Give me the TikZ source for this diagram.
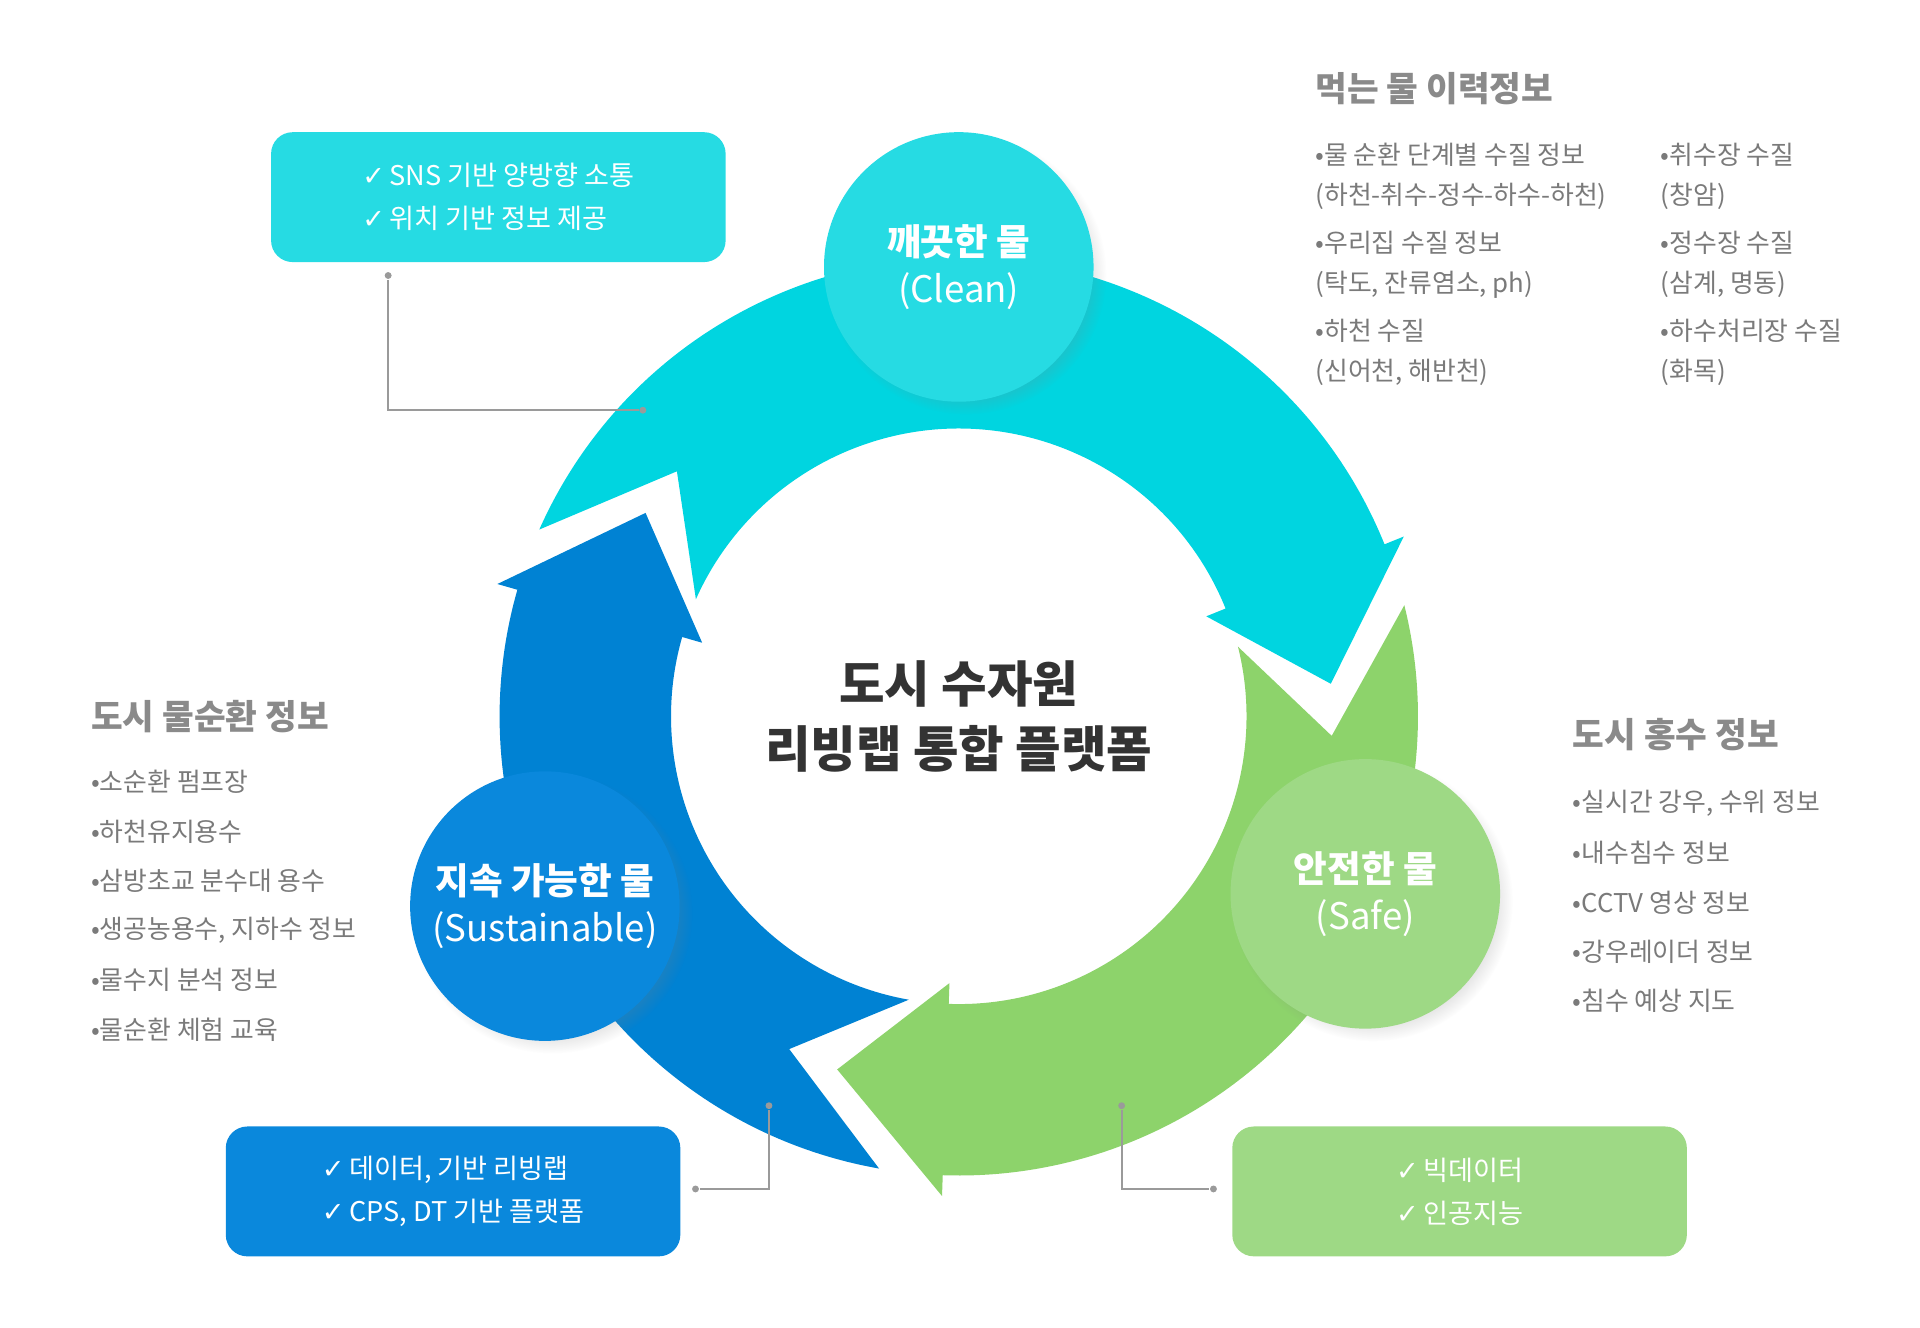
\documentclass[tikz,border=0pt]{standalone}
\usepackage{fontspec}
\setmainfont{Noto Sans CJK KR}
\newfontfamily\symfont{DejaVu Sans}
\usetikzlibrary{calc,shadows,positioning}
\definecolor{ringcyan}{HTML}{00D5E0}
\definecolor{ringgreen}{HTML}{8DD36B}
\definecolor{ringblue}{HTML}{0082D3}
\definecolor{circcyan}{HTML}{26DBE3}
\definecolor{circgreen}{HTML}{9ED985}
\definecolor{circblue}{HTML}{0A88DC}
\definecolor{headgray}{HTML}{8A8A8A}
\definecolor{itemgray}{HTML}{7A7A7A}
\definecolor{linegray}{HTML}{9A9A9A}
\newcommand\ck{{\symfont\char"2713}\,}
\newcommand\ringseg[3]{%
  \fill[#1] ($(C)+(#2:375)$) arc[start angle=#2,end angle=#3,radius=375]
    -- ($(C)+(#3:392)$) -- ($(C)+(#3-17:305)$) -- ($(C)+(#3:218)$)
    -- ($(C)+(#3:235)$) arc[start angle=#3,end angle=#2,radius=235]
    -- ($(C)+(#2-17:305)$) -- cycle;}
\tikzset{
  bigcirc/.style={circle,minimum size=2.2cm,inner sep=0,text=white,font=\bfseries\fontsize{8.5}{11}\selectfont,align=center,circular drop shadow={shadow scale=1.04,opacity=.25}},
  infobox/.style={rounded corners=5pt,minimum width=3.71cm,minimum height=1.06cm,text=white,font=\fontsize{6.3}{10}\selectfont,align=left},
  head/.style={anchor=west,text=headgray,font=\bfseries\fontsize{8}{10}\selectfont},
  item/.style={anchor=west,text=itemgray,font=\fontsize{6}{9.3}\selectfont,align=left},
  lead/.style={draw=linegray,line width=.5pt},
  dot/.style={circle,fill=linegray,inner sep=0,minimum size=1.6pt}
}
\begin{document}
\begin{tikzpicture}[x=0.01cm,y=0.01cm]
\useasboundingbox (0,0) rectangle (1568,1084);
\coordinate (C) at (783,499);
% ring
\ringseg{ringcyan}{156}{22}
\ringseg{ringgreen}{14}{-92}
\ringseg{ringblue}{-100}{-196}
% centre title
\node[text=black!80,font=\bfseries\fontsize{11.5}{15}\selectfont,align=center] (title) at (C) {도시 수자원\\리빙랩 통합 플랫폼};
% circles
\node[bigcirc,fill=circcyan] (clean) at (783,866) {깨끗한 물\\{\mdseries (Clean)}};
\node[bigcirc,fill=circgreen] (safe) at (1115,354) {안전한 물\\{\mdseries (Safe)}};
\node[bigcirc,fill=circblue] (sust) at (445,344) {지속 가능한 물\\{\mdseries (Sustainable)}};
% boxes
\node[infobox,fill=circcyan] (boxc) at (407,923) {\ck SNS 기반 양방향 소통\\\ck 위치 기반 정보 제공};
\node[infobox,fill=circblue] (boxb) at (370,111) {\ck 데이터, 기반 리빙랩\\\ck CPS, DT 기반 플랫폼};
\node[infobox,fill=circgreen] (boxg) at (1192,111) {\ck 빅데이터\\\ck 인공지능};
% leaders
\node[dot] (lc1) at (317,859) {};
\node[dot] (lc2) at (525,749) {};
\node[dot] (lb1) at (628,181) {};
\node[dot] (lb2) at (568,113) {};
\node[dot] (lg1) at (916,181) {};
\node[dot] (lg2) at (991,113) {};
\draw[lead] (lc1) |- (lc2);
\draw[lead] (lb1) |- (lb2);
\draw[lead] (lg1) |- (lg2);
% drinking water
\node[head] (hd) at (1062,1012) {먹는 물 이력정보};
\node[item] at (1062,940) {•물 순환 단계별 수질 정보\\(하천-취수-정수-하수-하천)};
\node[item] at (1062,868) {•우리집 수질 정보\\(탁도, 잔류염소, ph)};
\node[item] at (1062,796) {•하천 수질\\(신어천, 해반천)};
\node[item] at (1344,940) {•취수장 수질\\(창암)};
\node[item] at (1344,868) {•정수장 수질\\(삼계, 명동)};
\node[item] at (1344,796) {•하수처리장 수질\\(화목)};
% water cycle
\node[head] (hw) at (62,499) {도시 물순환 정보};
\foreach \t [count=\i] in {소순환 펌프장,하천유지용수,삼방초교 분수대 용수,{생공농용수, 지하수 정보},물수지 분석 정보,물순환 체험 교육}
  \node[item] at (62,486-40.5*\i) {•\t};
% flood
\node[head] (hf) at (1272,484) {도시 홍수 정보};
\foreach \t [count=\i] in {{실시간 강우, 수위 정보},내수침수 정보,CCTV 영상 정보,강우레이더 정보,침수 예상 지도}
  \node[item] at (1272,468-40.3*\i) {•\t};
\end{tikzpicture}
\end{document}
